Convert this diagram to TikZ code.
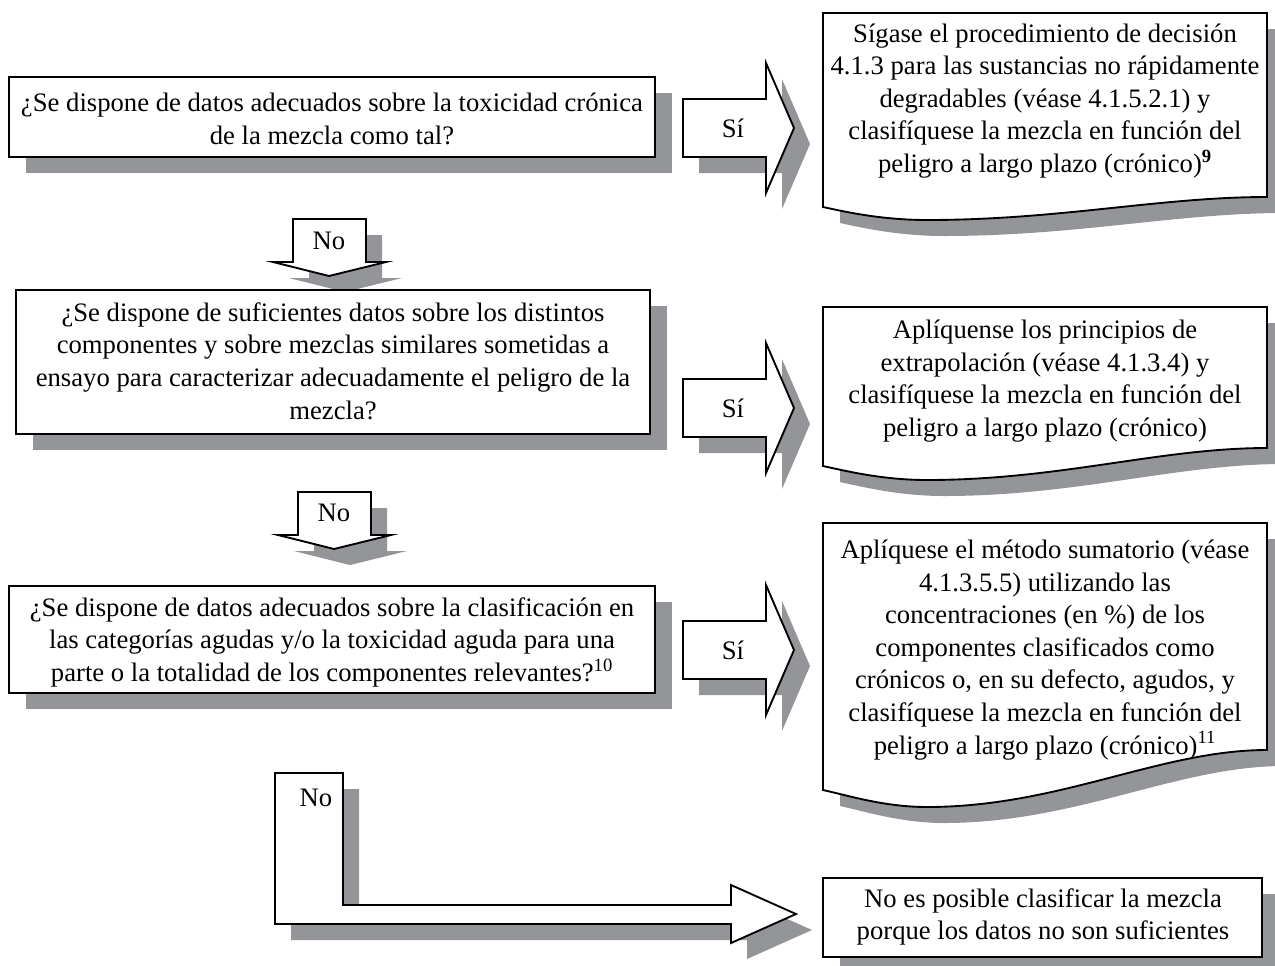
\documentclass[tikz,border=0pt]{standalone}
\usepackage{fontspec}
\setmainfont{Liberation Serif}
\definecolor{shadowgray}{RGB}{147,149,152}
\tikzset{
  shadowfill/.style={fill=shadowgray, draw=none},
  blockshape/.style={draw=black, fill=white, line width=1.4pt, line join=miter},
  txt/.style={font=\fontsize{20}{24.4}\selectfont, align=center, inner sep=0pt},
  % #1 top, #2 bottom of right side, #3 left corner drop, #4 dip depth
  docpath/.style n args={4}{insert path={(823,#1) -- (1267,#1) -- (1267,#2)
     .. controls (1160,#2) and (1060,#2+#4) .. (927,#2+#4)
     .. controls (885,#2+#4) and (850,#2+#3+6) .. (823,#2+#3) -- cycle}},
  siarrow/.style={insert path={(683,#1-29) -- (766,#1-29) -- (766,#1-65) -- (794,#1)
     -- (766,#1+65) -- (766,#1+29) -- (683,#1+29) -- cycle}},
  noarrow/.style 2 args={insert path={(#1-36,#2) -- (#1+37,#2) -- (#1+37,#2+43)
     -- (#1+57,#2+43) -- (#1,#2+57) -- (#1-56,#2+43) -- (#1-36,#2+43) -- cycle}},
  bentpath/.style={insert path={(275,773) -- (343,773) -- (343,905) -- (731,905)
     -- (731,885) -- (796,914) -- (731,943) -- (731,924) -- (275,924) -- cycle}}
}
\begin{document}
\begin{tikzpicture}[x=0.75pt,y=-0.75pt]
\useasboundingbox (0,0) rectangle (1275,965);
\clip (0,0) rectangle (1275,965);
% ---------- shadows ----------
\begin{scope}[shift={(17,16)}]
  \fill[shadowfill] (9,77) rectangle (655,157);
  \fill[shadowfill] (16,290) rectangle (650,434);
  \fill[shadowfill] (9,586) rectangle (655,693);
  \fill[shadowfill] [docpath={13}{197}{10}{23}];
  \fill[shadowfill] [docpath={307}{448}{18}{32}];
  \fill[shadowfill] [docpath={523}{750}{40}{57}];
  \fill[shadowfill] (823,878) rectangle (1262,957);
\end{scope}
\begin{scope}[shift={(16,16)}]
  \fill[shadowfill] [siarrow=128];
  \fill[shadowfill] [siarrow=408];
  \fill[shadowfill] [siarrow=650];
  \fill[shadowfill] [noarrow={329}{219}];
  \fill[shadowfill] [noarrow={334}{492}];
  \fill[shadowfill] [bentpath];
\end{scope}
% ---------- shapes ----------
\draw[blockshape] (9,77) rectangle (655,157);
\draw[blockshape] (16,290) rectangle (650,434);
\draw[blockshape] (9,586) rectangle (655,693);
\draw[blockshape] [docpath={13}{197}{10}{23}];
\draw[blockshape] [docpath={307}{448}{18}{32}];
\draw[blockshape] [docpath={523}{750}{40}{57}];
\draw[blockshape] (823,878) rectangle (1262,957);
\draw[blockshape] [siarrow=128];
\draw[blockshape] [siarrow=408];
\draw[blockshape] [siarrow=650];
\draw[blockshape] [noarrow={329}{219}];
\draw[blockshape] [noarrow={334}{492}];
\draw[blockshape] [bentpath];
% ---------- texts ----------
\node[txt] (q1) at (332,119) {¿Se dispone de datos adecuados sobre la toxicidad crónica\\de la mezcla como tal?};
\node[txt] (q2) at (333,361) {¿Se dispone de suficientes datos sobre los distintos\\componentes y sobre mezclas similares sometidas a\\ensayo para caracterizar adecuadamente el peligro de la\\mezcla?};
\node[txt] (q3) at (332,642) {¿Se dispone de datos adecuados sobre la clasificación en\\las categorías agudas y/o la toxicidad aguda para una\\parte o la totalidad de los componentes relevantes?\textsuperscript{10}};
\node[txt] (r1) at (1045,101) {Sígase el procedimiento de decisión\\4.1.3 para las sustancias no rápidamente\\degradables (véase 4.1.5.2.1) y\\clasifíquese la mezcla en función del\\peligro a largo plazo (crónico)\textsuperscript{\textbf{9}}};
\node[txt] (r2) at (1045,381) {Aplíquense los principios de\\extrapolación (véase 4.1.3.4) y\\clasifíquese la mezcla en función del\\peligro a largo plazo (crónico)};
\node[txt] (r3) at (1045,650) {Aplíquese el método sumatorio (véase\\4.1.3.5.5) utilizando las\\concentraciones (en \%) de los\\componentes clasificados como\\crónicos o, en su defecto, agudos, y\\clasifíquese la mezcla en función del\\peligro a largo plazo (crónico)\textsuperscript{11}};
\node[txt] (r4) at (1043,917) {No es posible clasificar la mezcla\\porque los datos no son suficientes};
\node[txt] (s1) at (733,128) {Sí};
\node[txt] (s2) at (733,408) {Sí};
\node[txt] (s3) at (733,650) {Sí};
\node[txt] (n1) at (329,241) {No};
\node[txt] (n2) at (334,513) {No};
\node[txt] (n3) at (316,798) {No};
\end{tikzpicture}
\end{document}
